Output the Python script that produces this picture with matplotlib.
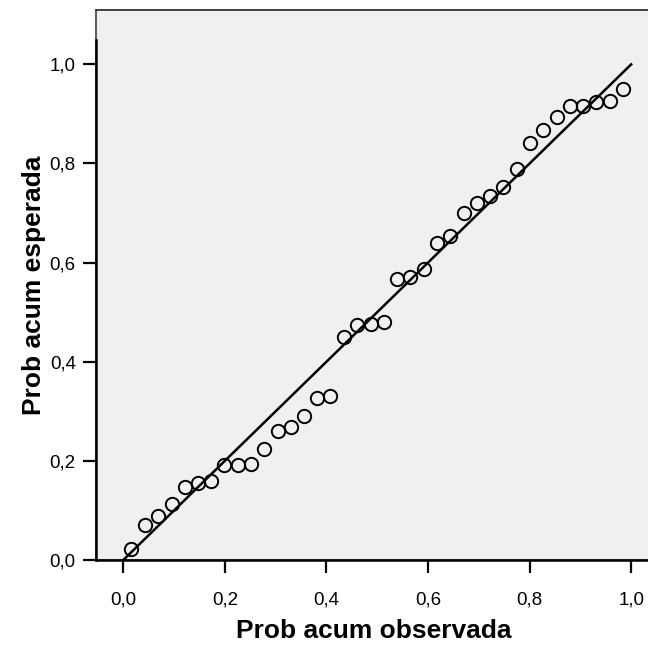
import matplotlib
matplotlib.use("Agg")
import matplotlib.pyplot as plt
from matplotlib.patches import Rectangle

plt.rcParams['font.family'] = ['Liberation Sans', 'DejaVu Sans']

# Observed cumulative probability (x) and expected cumulative probability (y)
obs_prob = [0.016, 0.042, 0.069, 0.095, 0.121, 0.147, 0.173, 0.199, 0.225, 0.252,
            0.278, 0.304, 0.330, 0.356, 0.382, 0.408, 0.435, 0.461, 0.487, 0.513,
            0.539, 0.565, 0.592, 0.618, 0.644, 0.670, 0.696, 0.722, 0.748, 0.775,
            0.801, 0.827, 0.853, 0.879, 0.905, 0.931, 0.958, 0.984]
exp_prob = [0.023, 0.070, 0.088, 0.112, 0.147, 0.156, 0.159, 0.192, 0.192, 0.194,
            0.223, 0.260, 0.268, 0.290, 0.326, 0.331, 0.450, 0.475, 0.476, 0.480,
            0.566, 0.570, 0.587, 0.639, 0.654, 0.701, 0.721, 0.734, 0.752, 0.789,
            0.841, 0.867, 0.894, 0.915, 0.916, 0.925, 0.926, 0.950]
ref_line = [0.0, 1.0]
tick_vals = [0.0, 0.2, 0.4, 0.6, 0.8, 1.0]
tick_labels = ["0,0", "0,2", "0,4", "0,6", "0,8", "1,0"]

W, H = 648, 646
fig = plt.figure(figsize=(W / 100, H / 100), dpi=100)
ax = fig.add_axes([96 / W, (H - 560) / H, (652 - 96) / W, (560 - 10) / H])
ax.set_facecolor('#f0f0f0')

ax.set_xlim(-0.0537, 1.041)
ax.set_ylim(0.0, 1.1097)

ax.plot(ref_line, ref_line, color='black', lw=1.8, zorder=2)
ax.plot(obs_prob, exp_prob, linestyle='none', marker='o', markersize=9.6,
        markerfacecolor='none', markeredgecolor='black', markeredgewidth=1.4, zorder=3)

# frame
ax.spines['right'].set_visible(False)
ax.spines['top'].set_color('#404040')
ax.spines['top'].set_linewidth(1.2)
ax.add_patch(Rectangle((0, 0), 1, 1, transform=ax.transAxes, fill=False,
                       edgecolor='#404040', lw=1.2, zorder=1, clip_on=False))
ax.spines['left'].set_bounds(0.0, 1.05)
ax.spines['left'].set_linewidth(1.8)
ax.spines['left'].set_color('black')
ax.spines['bottom'].set_linewidth(1.8)
ax.spines['bottom'].set_color('black')

ax.set_xticks(tick_vals)
ax.set_xticklabels(tick_labels)
ax.set_yticks(tick_vals)
ax.set_yticklabels(tick_labels)
ax.tick_params(axis='both', length=9.5, width=1.6, color='black', labelsize=13.5)
ax.tick_params(axis='x', pad=13)
ax.tick_params(axis='y', pad=5)

ax.set_xlabel("Prob acum observada", fontsize=19, fontweight='bold', labelpad=8)
ax.set_ylabel("Prob acum esperada", fontsize=19, fontweight='bold', labelpad=3)

fig.savefig("out.png", dpi=100)
